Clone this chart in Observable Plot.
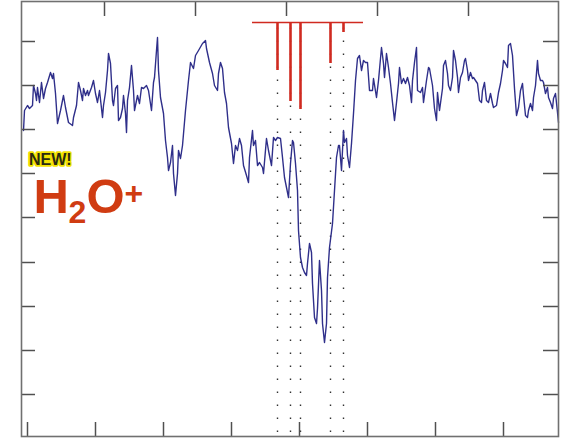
<!DOCTYPE html>
<html>
<head>
<meta charset="utf-8">
<script src="https://cdn.jsdelivr.net/npm/d3@7"></script>
<script src="https://cdn.jsdelivr.net/npm/@observablehq/plot@0.6"></script>
<style>
  html, body { margin: 0; padding: 0; background: #fff; }
  #chart { position: relative; width: 568px; height: 438px; }
</style>
</head>
<body>
<div id="chart"></div>
<script>
// Spectrum: channel index vs relative intensity (arbitrary units)
const channel = [2,3,6,8,11,12,14,15,16,18,20,22,24,26,29,31,32,34,36,39,42,44,47,51,52,55,57,59,61,62,64,66,67,70,72,74,76,78,81,82,84,86,87,89,91,92,94,96,97,99,101,102,104,105,106,108,110,112,113,116,118,120,122,125,127,130,132,133,135,136,137,139,142,144,146,147,149,151,152,154,156,157,159,161,164,167,169,172,174,177,181,184,185,188,191,193,196,197,199,201,203,205,207,210,212,214,216,218,220,222,225,227,228,231,232,234,236,238,241,242,245,247,250,252,254,256,259,261,263,265,267,269,271,272,274,276,277,279,281,283,285,286,288,290,291,293,295,296,298,300,301,303,305,306,308,311,313,315,317,318,320,322,323,325,326,328,330,332,334,336,338,340,342,344,346,348,351,352,355,357,360,362,363,365,367,369,371,373,375,377,378,380,382,384,386,388,390,391,393,395,396,399,401,402,405,407,408,411,413,415,416,418,421,422,424,426,427,429,431,432,434,436,437,439,441,443,444,446,447,449,451,452,454,456,458,460,461,463,465,467,469,471,472,475,477,479,481,482,484,486,487,489,491,493,495,497,499,501,502,504,506,507,509,511,512,514,516,517,519,521,522,524,526,527,529,531,532,534,536,537];
const intensity = [308,328,333,330,333,353,345,338,351,336,356,340,350,356,366,360,365,345,315,328,343,331,316,313,321,333,356,348,338,350,343,348,343,351,358,345,336,348,321,333,346,368,385,375,338,333,350,353,318,321,330,343,325,306,338,351,373,348,328,343,335,351,350,353,348,328,356,361,388,401,368,341,325,298,281,268,276,293,265,243,265,288,280,293,328,358,376,370,383,388,395,398,390,376,365,353,348,365,376,370,346,335,311,295,275,293,288,300,293,273,263,256,281,308,293,298,273,276,271,265,300,288,273,301,298,301,300,281,261,251,241,275,298,296,275,248,208,181,171,166,163,175,195,186,155,121,115,130,178,148,115,96,115,161,191,215,248,281,293,293,268,308,296,300,283,271,295,325,358,380,383,368,378,376,376,348,348,360,341,358,391,375,361,385,371,355,336,318,336,355,371,355,360,355,361,353,336,358,376,391,348,346,351,336,358,371,370,353,330,318,346,328,350,373,378,365,353,348,361,388,378,361,346,361,366,378,380,368,358,366,360,361,358,355,338,336,348,356,338,336,345,335,331,333,346,355,368,378,375,371,393,395,383,350,323,331,348,355,343,323,321,328,335,328,341,353,378,365,358,358,356,345,351,341,336,330,340,345,326,316];

// Stick spectrum of H2O+ hyperfine components
const stickChannel = [256, 269, 279, 309, 322];
const stickIntensity = [368, 337, 329, 375, 406];
const barLevel = 416;
const barExtent = [231, 342];

// Axis ticks
const yTicks = [44, 88, 132, 176, 221, 265, 309, 353, 397];
const xBottomTicks = [6, 74, 142, 210, 278, 346, 414, 482];
const xTopTicks = [83, 174, 265, 356, 447];

const xDomain = [0, 537];
const yDomain = [2, 437];

const spectrum = channel.map((c, i) => ({c, v: intensity[i]}));
const sticks = stickChannel.map((c, i) => ({c, v: stickIntensity[i]}));

const W = 568, H = 438, mL = 21, mR = 10, mT = 1, mB = 2;
const plotW = W - mL - mR, plotH = H - mT - mB;
const axisColor = "#505050";

const chart = Plot.plot({
  width: W,
  height: H,
  marginLeft: mL,
  marginRight: mR,
  marginTop: mT,
  marginBottom: mB,
  x: {domain: xDomain, axis: null},
  y: {domain: yDomain, axis: null},
  style: {background: "#fff", overflow: "visible"},
  marks: [
    // dotted markers of the line positions
    Plot.ruleX(sticks, {x: "c", y1: yDomain[0] + 4, y2: barLevel, stroke: "#333", strokeWidth: 1.4, strokeDasharray: "1.4 11.6"}),
    // observed spectrum
    Plot.line(spectrum, {x: "c", y: "v", stroke: "#2f2f8a", strokeWidth: 1.4}),
    // stick spectrum
    Plot.ruleY([barLevel], {x1: barExtent[0], x2: barExtent[1], stroke: "#d02a20", strokeWidth: 1.6}),
    Plot.ruleX(sticks, {x: "c", y1: "v", y2: barLevel, stroke: "#d02a20", strokeWidth: 2.6}),
    // inward ticks
    Plot.ruleY(yTicks, {insetRight: plotW - 14, stroke: axisColor, strokeWidth: 1.5}),
    Plot.ruleY(yTicks, {insetLeft: plotW - 15, stroke: axisColor, strokeWidth: 1.5}),
    Plot.ruleX(xBottomTicks, {insetTop: plotH - 14, stroke: axisColor, strokeWidth: 1.5}),
    Plot.ruleX(xTopTicks, {insetBottom: plotH - 15, stroke: axisColor, strokeWidth: 1.5}),
    Plot.frame({stroke: "#707070", strokeWidth: 1.6})
  ]
});

document.getElementById("chart").appendChild(chart);

// Annotation texts
const svg = d3.select(chart);
const g = svg.append("g").attr("text-anchor", "start");
g.append("text")
  .attr("x", 29).attr("y", 165)
  .attr("font-family", "Liberation Sans, Arial, sans-serif")
  .attr("font-weight", "bold")
  .attr("font-size", 16)
  .attr("fill", "#2a2a10")
  .attr("stroke", "#f2e200")
  .attr("stroke-width", 3.5)
  .attr("stroke-linejoin", "round")
  .attr("paint-order", "stroke")
  .text("NEW!");

const h = g.append("text")
  .attr("font-family", "Liberation Sans, Arial, sans-serif")
  .attr("font-weight", "bold")
  .attr("fill", "#d03c12");
h.append("tspan").attr("x", 33.5).attr("y", 213).attr("font-size", 49).text("H");
h.append("tspan").attr("x", 68.5).attr("y", 223).attr("font-size", 32).text("2");
h.append("tspan").attr("x", 86.5).attr("y", 213).attr("font-size", 49).text("O");
h.append("tspan").attr("x", 124.5).attr("y", 204).attr("font-size", 32).text("+");
</script>
</body>
</html>
